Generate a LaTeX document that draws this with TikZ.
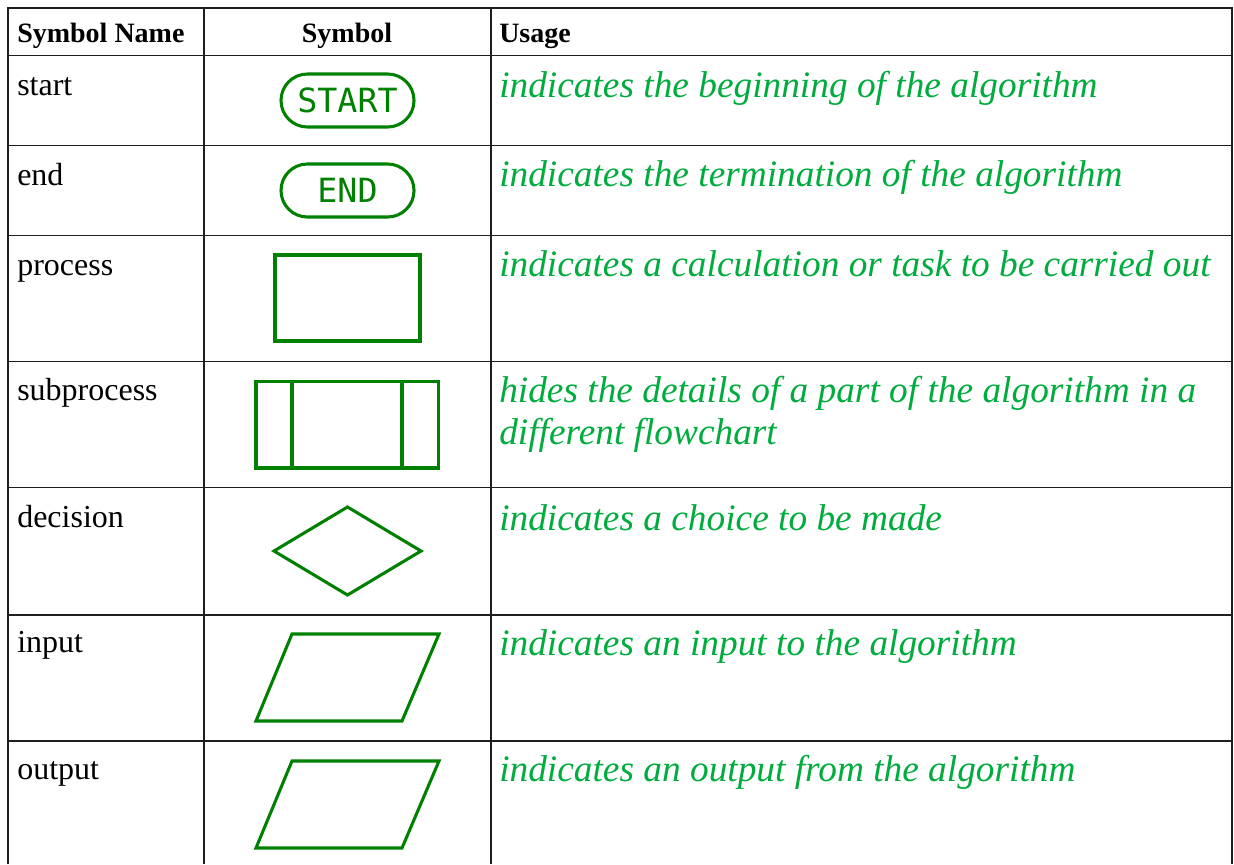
\documentclass[tikz,border=0pt]{standalone}
\usepackage{fontspec}
\setmainfont{Liberation Serif}
\newfontfamily\termfont{DejaVu Sans Mono}
\definecolor{usagegreen}{RGB}{0,172,62}
\definecolor{shapegreen}{RGB}{0,128,0}
\definecolor{gridline}{RGB}{30,30,30}

\begin{document}
\begin{tikzpicture}[x=0.75pt,y=-0.75pt,
  gridrule/.style={draw=gridline, line width=1.2pt},
  sym/.style={draw=shapegreen, line width=2.3pt, line join=miter},
  hdr/.style={inner sep=0pt, font=\fontsize{21}{25}\selectfont\bfseries},
  namecell/.style={anchor=base west, inner sep=0pt, font=\fontsize{24}{28}\selectfont},
  usagecell/.style={anchor=base west, inner sep=0pt, align=left, text=usagegreen,
    font=\fontsize{28}{31}\selectfont\itshape},
  terminal/.style={sym, rounded corners=19.8pt, minimum width=99.75pt,
    minimum height=39.75pt, inner sep=0pt, text=shapegreen,
    font=\termfont\fontsize{25}{30}\selectfont}]

  % page frame
  \useasboundingbox (0,0) rectangle (1234,864);
  \fill[white] (0,0) rectangle (1234,864);

  % table rules
  \draw[gridrule] (8,864) -- (8,8) -- (1232,8) -- (1232,864);
  \draw[gridrule] (204,8) -- (204,864);
  \draw[gridrule] (491,8) -- (491,864);
  \foreach \yy in {55.5,145.5,235.5,361.5,487.5,615,741}
    \draw[gridrule] (8,\yy) -- (1232,\yy);

  % header row
  \node[hdr, anchor=base west] (hname)  at (17,42)  {Symbol Name};
  \node[hdr, anchor=base]      (hsym)   at (347,42) {Symbol};
  \node[hdr, anchor=base west] (husage) at (499,42) {Usage};

  % symbol names
  \node[namecell] (nstart)   at (17,95)  {start};
  \node[namecell] (nend)     at (17,185) {end};
  \node[namecell] (nproc)    at (17,275) {process};
  \node[namecell] (nsub)     at (17,400) {subprocess};
  \node[namecell] (ndec)     at (17,527) {decision};
  \node[namecell] (ninput)   at (17,652) {input};
  \node[namecell] (noutput)  at (17,779) {output};

  % symbols
  \node[terminal] (sstart) at (347.5,100.5) {START};
  \node[terminal] (send)   at (347.5,190.5) {END};
  \draw[sym] (275,255) rectangle (420,341);
  \draw[sym] (256,381.5) rectangle (438.5,468);
  \draw[sym] (292,381.5) -- (292,468);
  \draw[sym] (402,381.5) -- (402,468);
  \draw[sym] (347.5,507) -- (421,551) -- (347.5,595) -- (274,551) -- cycle;
  \draw[sym] (292,634) -- (439,634) -- (402,721) -- (256,721) -- cycle;
  \draw[sym] (292,761) -- (439,761) -- (402,848) -- (256,848) -- cycle;

  % usage descriptions (a two-line node is placed by its last baseline)
  \node[usagecell] (ustart)  at (499,97)  {indicates the beginning of the algorithm};
  \node[usagecell] (uend)    at (499,186) {indicates the termination of the algorithm};
  \node[usagecell] (uproc)   at (499,276) {indicates a calculation or task to be carried out};
  \node[usagecell] (usub)    at (499,444) {hides the details of a part of the algorithm in a\\different flowchart};
  \node[usagecell] (udec)    at (499,530) {indicates a choice to be made};
  \node[usagecell] (uinput)  at (499,655.5) {indicates an input to the algorithm};
  \node[usagecell] (uoutput) at (499,781.5) {indicates an output from the algorithm};
\end{tikzpicture}
\end{document}
